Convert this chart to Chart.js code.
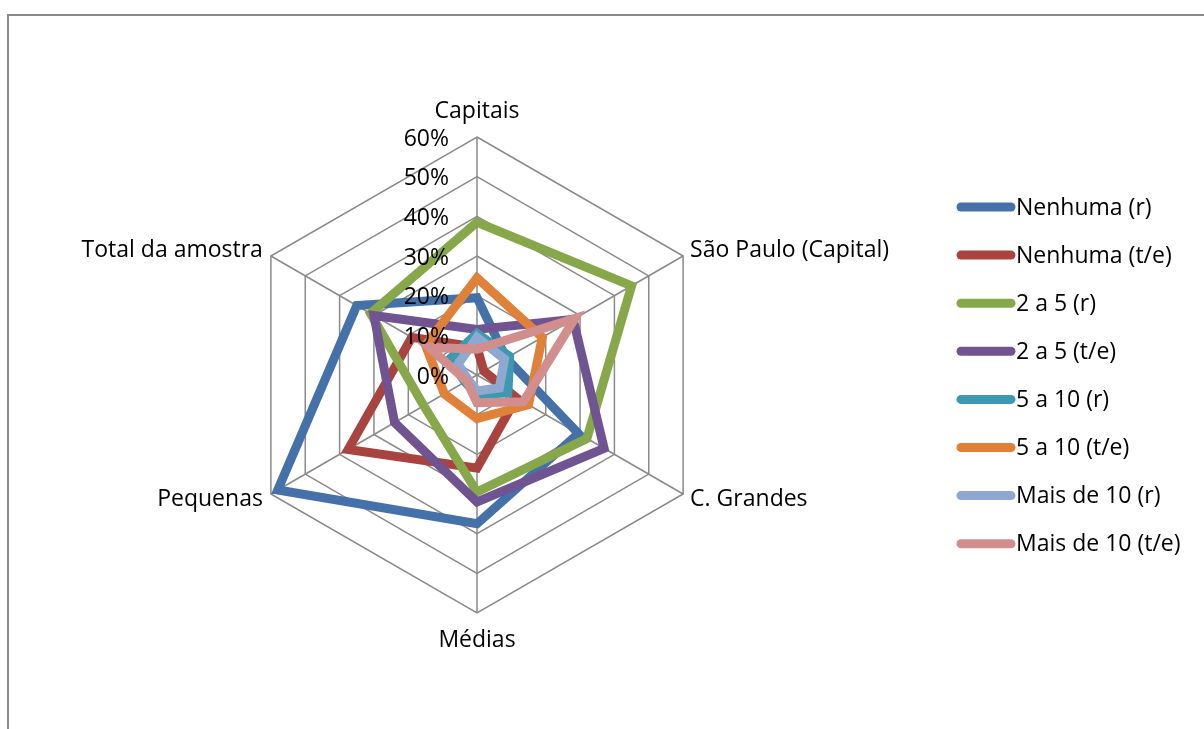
<!DOCTYPE html>
<html>
<head>
<meta charset="utf-8">
<script src="https://cdn.jsdelivr.net/npm/chart.js@4.4.0/dist/chart.umd.min.js"></script>
<style>
    html, body { margin: 0; padding: 0; background: #fff; overflow: hidden; }
    #frame { position: absolute; left: 7px; top: 14px; width: 1300px; height: 800px; border: 2px solid #8a8a8a; }
    #wrap { position: absolute; left: 0; top: 0; width: 1204px; height: 729px; }
</style>
</head>
<body>
<div id="frame"></div>
<div id="wrap"><canvas id="radarChart"></canvas></div>
<script>
const categories = ["Capitais", "São Paulo (Capital)", "C. Grandes", "Médias", "Pequenas", "Total da amostra"];
const tickValues = [0, 10, 20, 30, 40, 50, 60];

const nenhumaR = [19.5, 8.5, 29.5, 37.5, 58, 35];
const nenhumaTE = [7, 2, 11.5, 23.5, 37.5, 19];
const doisCincoR = [38.5, 45, 32, 29.5, 15.5, 31];
const doisCincoTE = [11.5, 28, 37, 32, 24, 30];
const cincoDezR = [10.5, 9.5, 9, 5, 3.5, 8];
const cincoDezTE = [24.5, 19, 15, 11, 9.5, 15];
const maisDezR = [9.5, 8, 6.5, 4, 2.5, 5.5];
const maisDezTE = [6.5, 28.5, 13.5, 7, 3, 14];

const seriesNames = ["Nenhuma (r)", "Nenhuma (t/e)", "2 a 5 (r)", "2 a 5 (t/e)", "5 a 10 (r)", "5 a 10 (t/e)", "Mais de 10 (r)", "Mais de 10 (t/e)"];
const seriesValues = [nenhumaR, nenhumaTE, doisCincoR, doisCincoTE, cincoDezR, cincoDezTE, maisDezR, maisDezTE];
const seriesColors = ["#4571a9", "#a8433f", "#87a84a", "#6f5491", "#3d99b1", "#df8139", "#8fa8d1", "#d18e8d"];

const FONT = "'Open Sans', Lato, sans-serif";
const FONT_SIZE = 23;

// tick labels, right aligned left of the vertical axis
const tickLabelPlugin = {
    id: "tickLabels",
    afterDatasetsDraw(chart) {
        const scale = chart.scales.r;
        const ctx = chart.ctx;
        ctx.save();
        ctx.font = FONT_SIZE + "px " + FONT;
        ctx.fillStyle = "#000";
        ctx.textAlign = "right";
        ctx.textBaseline = "middle";
        tickValues.forEach(v => {
            const y = scale.yCenter - scale.getDistanceFromCenterForValue(v);
            ctx.fillText(v + "%", scale.xCenter - 28, y + 2);
        });
        ctx.restore();
    }
};

// category labels around the web
const pointLabelPlugin = {
    id: "catLabels",
    afterDraw(chart) {
        const scale = chart.scales.r;
        const ctx = chart.ctx;
        ctx.save();
        ctx.font = FONT_SIZE + "px " + FONT;
        ctx.fillStyle = "#000";
        ctx.textBaseline = "middle";
        categories.forEach((label, i) => {
            const p = scale.getPointPosition(i, scale.drawingArea);
            const dx = p.x - scale.xCenter;
            const dy = p.y - scale.yCenter;
            let x = p.x, y = p.y;
            if (Math.abs(dx) < 1) {
                ctx.textAlign = "center";
                y = dy < 0 ? p.y - 26 : p.y + 27;
            } else {
                ctx.textAlign = dx > 0 ? "left" : "right";
                x = dx > 0 ? p.x + 7 : p.x - 8;
                y = dy < 0 ? p.y - 6 : p.y + 5;
            }
            ctx.fillText(label, x, y);
        });
        ctx.restore();
    }
};

// legend on the right: thick rounded line + text
const legendPlugin = {
    id: "lineLegend",
    afterDraw(chart) {
        const ctx = chart.ctx;
        ctx.save();
        ctx.font = FONT_SIZE + "px " + FONT;
        ctx.textAlign = "left";
        ctx.textBaseline = "middle";
        seriesNames.forEach((name, i) => {
            const y = 207 + i * 48.1;
            ctx.strokeStyle = seriesColors[i];
            ctx.lineWidth = 9;
            ctx.lineCap = "round";
            ctx.beginPath();
            ctx.moveTo(961, y);
            ctx.lineTo(1011, y);
            ctx.stroke();
            ctx.fillStyle = "#000";
            ctx.fillText(name, 1016, y + 1);
        });
        ctx.restore();
    }
};

const datasets = seriesValues.map((vals, i) => ({
    label: seriesNames[i],
    data: vals,
    borderColor: seriesColors[i],
    backgroundColor: seriesColors[i],
    borderWidth: 9,
    fill: false,
    pointRadius: 0,
    pointHoverRadius: 0,
    tension: 0,
    order: seriesNames.length - i
}));

new Chart(document.getElementById("radarChart"), {
    type: "radar",
    data: {
        labels: categories,
        datasets: datasets
    },
    options: {
        responsive: true,
        maintainAspectRatio: false,
        animation: false,
        layout: {
            padding: { left: 239, right: 489, top: 137, bottom: 116 }
        },
        plugins: {
            legend: { display: false },
            tooltip: { enabled: false }
        },
        scales: {
            r: {
                min: 0,
                max: 60,
                ticks: { stepSize: 10, display: false },
                grid: { color: "#8a8a8a", lineWidth: 1.5 },
                angleLines: { color: "#8a8a8a", lineWidth: 1.5 },
                pointLabels: { display: false }
            }
        }
    },
    plugins: [tickLabelPlugin, pointLabelPlugin, legendPlugin]
});
</script>
</body>
</html>
